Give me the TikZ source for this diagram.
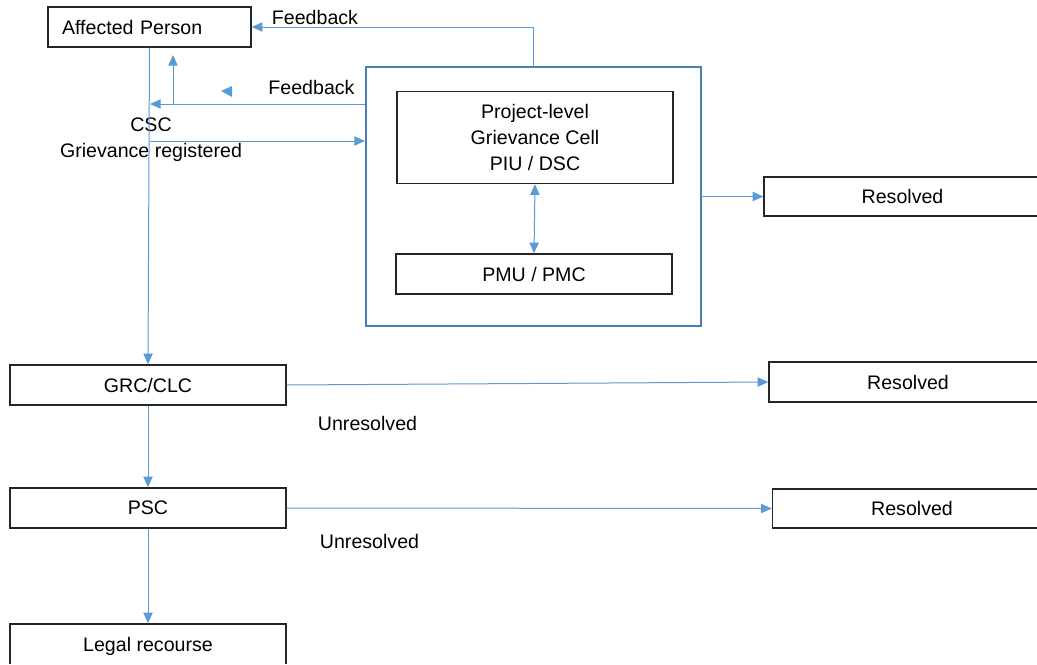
\documentclass[tikz,border=0pt]{standalone}
\usepackage{fontspec}
\setmainfont{Liberation Sans}
\usetikzlibrary{arrows.meta}
\definecolor{lineblue}{HTML}{5B9BD5}
\definecolor{boxblue}{HTML}{4A7EBB}
\tikzset{
  box/.style={draw=black!85, line width=1.1pt, fill=white, inner sep=0pt, align=center},
  bigbox/.style={draw=boxblue, line width=1.5pt, inner sep=0pt},
  arr/.style={draw=lineblue, line width=0.75pt, -{Triangle[length=8pt,width=7pt]}},
  dblarr/.style={draw=lineblue, line width=0.75pt, {Triangle[length=8pt,width=7pt]}-{Triangle[length=8pt,width=7pt]}},
  lbl/.style={inner sep=0pt, align=center},
}
\begin{document}
\begin{tikzpicture}[x=0.75pt, y=-0.75pt, font=\fontsize{14.7}{19.4}\selectfont]
\useasboundingbox (0,0) rectangle (1037,664);
\clip (0,0) rectangle (1037,664);
\fill[white] (0,0) rectangle (1037,664);
% nodes
\node[box, minimum width=152.25pt, minimum height=30pt, text width=131.25pt, align=left, inner xsep=10.5pt] (AP) at (149.5,27) {Affected Person};
\node[bigbox, minimum width=251.25pt, minimum height=194.25pt] (big) at (533.5,196.5) {};
\node[box, minimum width=207pt, minimum height=69pt] (cell) at (535,137.5) {Project-level\\Grievance Cell\\PIU / DSC};
\node[box, minimum width=207pt, minimum height=30pt] (pmu) at (534,274) {PMU / PMC};
\node[box, minimum width=207.75pt, minimum height=29.25pt, text width=190pt] (res1) at (902.5,196.5) {Resolved};
\node[box, minimum width=207pt, minimum height=30pt] (grc) at (148,385) {GRC/CLC};
\node[box, minimum width=208.5pt, minimum height=30pt, text width=190pt] (res2) at (908,382) {Resolved};
\node[box, minimum width=207pt, minimum height=30pt] (psc) at (148,508) {PSC};
\node[box, minimum width=209.25pt, minimum height=29.25pt, text width=190pt] (res3) at (912,508.5) {Resolved};
\node[box, minimum width=207pt, minimum height=33pt] (legal) at (148,646) {Legal recourse};
% cover the parts that run beyond the frame (right and bottom edges)
\fill[white] (1037,150) rectangle (1200,560);
\fill[white] (0,664) rectangle (400,700);
% labels
\node[lbl] (fb1) at (315,17) {Feedback};
\node[lbl] (fb2) at (311.5,87) {Feedback};
\node[lbl] (csc) at (151,139.5) {CSC\\Grievance registered};
\node[lbl] (un1) at (367.5,423) {Unresolved};
\node[lbl] (un2) at (369.5,541) {Unresolved};
% coordinates
\coordinate (fbL) at (150,104);
\coordinate (upB) at (173,104);
\coordinate (upT) at (173,55);
\coordinate (grL) at (150,141);
% connectors
\draw[arr] (AP.south) -- (grc.north);
\draw[arr] (big.north) |- (AP.east);
\draw[arr] (big.west |- fbL) -- (fbL);
\draw[arr] (upB) -- (upT);
\fill[lineblue] (221,91) -- (232,86) -- (232,97) -- cycle;
\draw[arr] (grL) -- (grL -| big.west);
\draw[dblarr] (cell.south) -- (pmu.north);
\draw[arr] (big.east |- res1.west) -- (res1.west);
\draw[arr] (grc.east) -- (res2.west);
\draw[arr] (grc.south) -- (psc.north);
\draw[arr] (psc.east) -- (res3.west);
\draw[arr] (psc.south) -- (legal.north);
\end{tikzpicture}
\end{document}
